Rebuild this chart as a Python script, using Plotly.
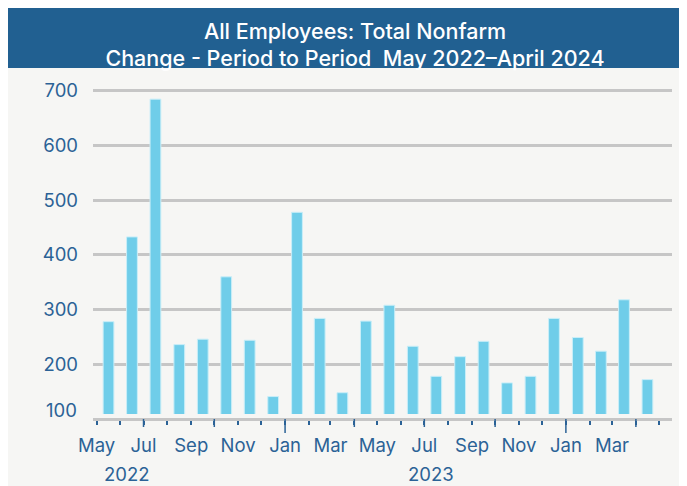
import plotly.graph_objects as go
import pandas as pd

# ---- data ----
months = ["2022-05-01", "2022-06-01", "2022-07-01", "2022-08-01", "2022-09-01", "2022-10-01",
          "2022-11-01", "2022-12-01", "2023-01-01", "2023-02-01", "2023-03-01", "2023-04-01",
          "2023-05-01", "2023-06-01", "2023-07-01", "2023-08-01", "2023-09-01", "2023-10-01",
          "2023-11-01", "2023-12-01", "2024-01-01", "2024-02-01", "2024-03-01", "2024-04-01"]
changes = [278, 433, 685, 236, 246, 360, 244, 141, 478, 284, 148, 279,
           308, 233, 178, 214, 242, 166, 178, 284, 249, 224, 318, 172]
y_ticks = [100, 200, 300, 400, 500, 600, 700]
x_tick_vals = ["2022-05-01", "2022-07-01", "2022-09-01", "2022-11-01", "2023-01-01", "2023-03-01",
               "2023-05-01", "2023-07-01", "2023-09-01", "2023-11-01", "2024-01-01", "2024-03-01"]
x_tick_text = ["May", "Jul", "Sep", "Nov", "Jan", "Mar", "May", "Jul", "Sep", "Nov", "Jan", "Mar"]
year_labels = ["2022", "2023"]
year_label_x = ["2022-06-10", "2023-07-10"]

FONT = "Inter"
TXT = "#2b6296"
BAR = "#6fcde9"
GRID = "#c6c6c6"
BG = "#f6f6f4"
BAND = "#216091"

# figure is placed at (8, 8) in the page (body margin)
W, H = 687, 486
ML, MR, MT, MB = 85, 23, 72, 75
PW, PH = W - ML - MR, H - MT - MB


def px_x(p):
    return (p - ML) / PW


def px_y(p):
    return (H - MB - p) / PH


DAY = 86400000
Y_MIN = 109.1

fig = go.Figure()
fig.add_trace(go.Bar(
    x=months, y=changes,
    xperiod="M1", xperiodalignment="middle",
    width=[14 * DAY] * len(months),
    marker=dict(color=BAR, line=dict(color="#c9eef8", width=1)),
    hoverinfo="x+y",
))

shapes = [
    dict(type="rect", xref="paper", yref="paper", layer="below",
         x0=px_x(-2), x1=px_x(W + 2), y0=px_y(60), y1=px_y(-2),
         fillcolor=BAND, line=dict(width=0)),
]
# longer ticks at quarter / year starts
for d in pd.date_range("2022-07-01", "2024-04-01", freq="QS"):
    ln = 14 if d.month == 1 else 8
    shapes.append(dict(type="line", xref="x", yref="paper",
                       x0=d.strftime("%Y-%m-%d"), x1=d.strftime("%Y-%m-%d"),
                       y0=0, y1=-ln / PH, line=dict(color=TXT, width=1.5)))

annotations = [
    dict(text=t, x=x, xref="x", y=px_y(466), yref="paper", showarrow=False,
         font=dict(family=FONT, size=18.5, color=TXT), xanchor="center", yanchor="middle")
    for t, x in zip(year_labels, year_label_x)
]
# the lowest y label sits below the clipped range
for v in [t for t in y_ticks if t < Y_MIN]:
    annotations.append(dict(text=str(v), x=px_x(ML - 14), xref="paper", y=px_y(402), yref="paper",
                            showarrow=False, xanchor="right", yanchor="middle",
                            font=dict(family=FONT, size=18.5, color=TXT)))

fig.update_layout(
    width=W, height=H,
    margin=dict(l=ML, r=MR, t=MT, b=MB, pad=0),
    paper_bgcolor=BG,
    plot_bgcolor="rgba(0,0,0,0)",
    font=dict(family=FONT, color=TXT, size=18.5),
    showlegend=False,
    title=dict(
        text="All Employees: Total Nonfarm<br>Change - Period to Period\u00a0 May 2022\u2013April 2024",
        x=347 / W, xref="container", xanchor="center",
        y=1 - 30.5 / H, yref="container", yanchor="middle",
        font=dict(family=FONT, size=21.5, color="white", weight=500),
    ),
    shapes=shapes,
    annotations=annotations,
    xaxis=dict(
        type="date",
        range=["2022-04-26 08:00", "2024-05-17 22:00"],
        anchor="free", position=0,
        tickvals=x_tick_vals, ticktext=x_tick_text,
        ticks="outside", ticklen=4, tickwidth=1.5, tickcolor=TXT,
        ticklabelstandoff=5,
        minor=dict(dtick="M1", tick0="2022-05-01", ticks="outside", ticklen=4,
                   tickwidth=1.5, tickcolor=TXT, showgrid=False),
        showgrid=False,
        showline=True, linecolor=GRID, linewidth=3,
        tickfont=dict(family=FONT, size=18.5, color=TXT),
        zeroline=False,
    ),
    yaxis=dict(
        domain=[5 / PH, 1],
        range=[Y_MIN, 720],
        tickvals=y_ticks,
        showgrid=True, gridcolor=GRID, gridwidth=2.6,
        zeroline=False, showline=False, ticks="",
        ticklabelstandoff=14,
        tickfont=dict(family=FONT, size=18.5, color=TXT),
    ),
)

fig.write_html("out.html")
